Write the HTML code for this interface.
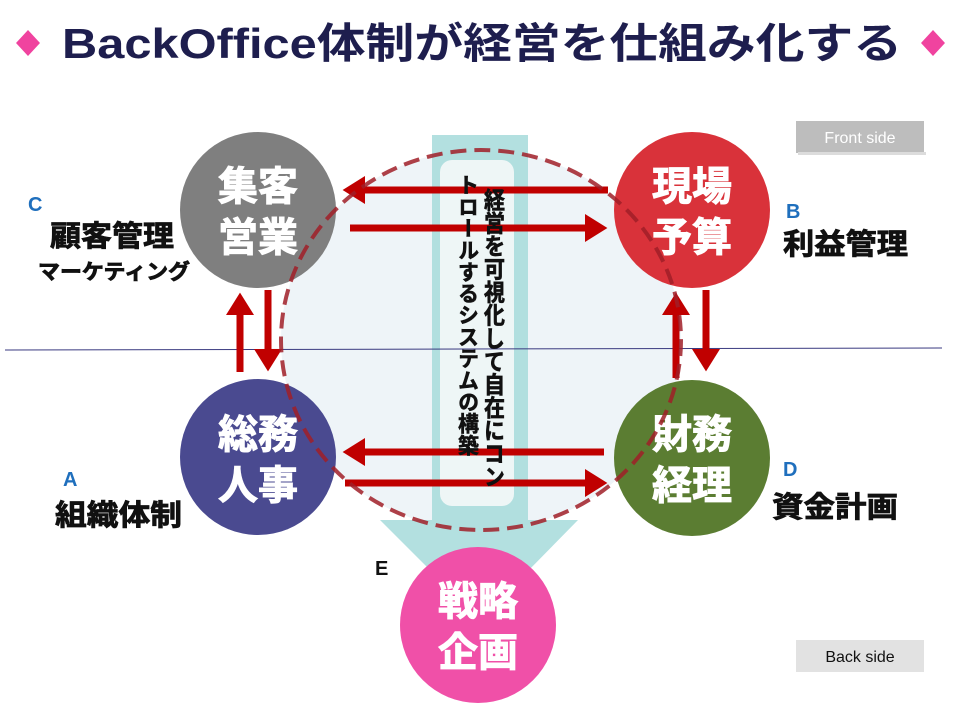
<!DOCTYPE html>
<html><head><meta charset="utf-8"><style>
html,body{margin:0;padding:0;background:#fff;}
svg{display:block;}
text{font-family:"Liberation Sans","Noto Sans CJK JP",sans-serif;font-weight:bold;}
</style></head><body>
<svg width="960" height="720" viewBox="0 0 960 720" xmlns="http://www.w3.org/2000/svg">
<defs>
<marker id="ah" markerWidth="4" markerHeight="4" refX="1" refY="2" orient="auto" markerUnits="strokeWidth">
<path d="M0,0 L3.2,2 L0,4 z" fill="#c00000"/></marker>
</defs>
<path d="M28,30 L40,43 L28,56 L16,43 z" fill="#f0439f"/>
<path d="M933,30 L945,43 L933,56 L921,43 z" fill="#f0439f"/>
<text x="482" y="58" text-anchor="middle" font-size="42" fill="#1e1e4e" textLength="840" lengthAdjust="spacingAndGlyphs">BackOffice体制が経営を仕組み化する</text>
<ellipse cx="481" cy="340" rx="200" ry="190" fill="#eef4f8"/>
<path d="M432,135 L528,135 L528,520 L578,520 L480,620 L380,520 L432,520 z" fill="#a6dada" opacity="0.85"/>
<rect x="440" y="160" width="74" height="346" rx="12" fill="#eef6f6"/>
<line x1="5" y1="350" x2="942" y2="348" stroke="#3a3a80" stroke-width="1"/>
<circle cx="258" cy="210" r="78" fill="#7f7f7f"/>
<circle cx="692" cy="210" r="78" fill="#d9323a"/>
<circle cx="258" cy="457" r="78" fill="#4a4a90"/>
<circle cx="692" cy="458" r="78" fill="#5b7d32"/>
<circle cx="478" cy="625" r="78" fill="#f050a8"/>
<g fill="#fff" font-size="40" text-anchor="middle" stroke="#fff" stroke-width="1">
<text x="258" y="200">集客</text><text x="258" y="251">営業</text>
<text x="692" y="200">現場</text><text x="692" y="251">予算</text>
<text x="258" y="448">総務</text><text x="258" y="499">人事</text>
<text x="692" y="448">財務</text><text x="692" y="499">経理</text>
<text x="478" y="615">戦略</text><text x="478" y="666">企画</text>
</g>
<g stroke="#c00000" stroke-width="7" fill="none" marker-end="url(#ah)">
<line x1="608" y1="190" x2="358" y2="190"/>
<line x1="350" y1="228" x2="592" y2="228"/>
<line x1="604" y1="452" x2="358" y2="452"/>
<line x1="345" y1="483" x2="592" y2="483"/>
<line x1="240" y1="372" x2="240" y2="308"/>
<line x1="268" y1="290" x2="268" y2="356"/>
<line x1="676" y1="378" x2="676" y2="308"/>
<line x1="706" y1="290" x2="706" y2="356"/>
</g>
<ellipse cx="481" cy="340" rx="200" ry="190" fill="none" stroke="#a01e28" stroke-width="4" stroke-dasharray="16,8" opacity="0.85"/>
<g font-size="21" fill="#111" stroke="#111" stroke-width="0.6">
<text x="493" y="188" writing-mode="tb" style="writing-mode:vertical-rl" text-anchor="start" textLength="300" lengthAdjust="spacingAndGlyphs">経営を可視化して自在にコン</text>
<text x="467" y="174" writing-mode="tb" style="writing-mode:vertical-rl" text-anchor="start" textLength="282" lengthAdjust="spacingAndGlyphs">トロールするシステムの構築</text>
</g>
<g fill="#1f6fbd" font-size="20">
<text x="28" y="211">C</text><text x="786" y="218">B</text>
<text x="63" y="486">A</text><text x="783" y="476">D</text>
</g>
<text x="375" y="575" font-size="20" fill="#111">E</text>
<g fill="#111" stroke="#111" stroke-width="0.8">
<text x="50" y="246" font-size="29" textLength="124" lengthAdjust="spacingAndGlyphs">顧客管理</text>
<text x="38" y="279" font-size="21" textLength="152" lengthAdjust="spacingAndGlyphs">マーケティング</text>
<text x="783" y="254" font-size="29" textLength="125" lengthAdjust="spacingAndGlyphs">利益管理</text>
<text x="55" y="525" font-size="29" textLength="127" lengthAdjust="spacingAndGlyphs">組織体制</text>
<text x="772" y="517" font-size="29" textLength="126" lengthAdjust="spacingAndGlyphs">資金計画</text>
</g>
<rect x="796" y="121" width="128" height="32" fill="#bdbdbd"/>
<rect x="798" y="152" width="128" height="3" fill="#dcdcdc"/>
<text x="860" y="143" text-anchor="middle" font-size="16" fill="#fff" style="font-weight:normal">Front side</text>
<rect x="796" y="640" width="128" height="32" fill="#e2e2e2"/>
<text x="860" y="662" text-anchor="middle" font-size="16" fill="#111" style="font-weight:normal">Back side</text>
</svg>
</body></html>
